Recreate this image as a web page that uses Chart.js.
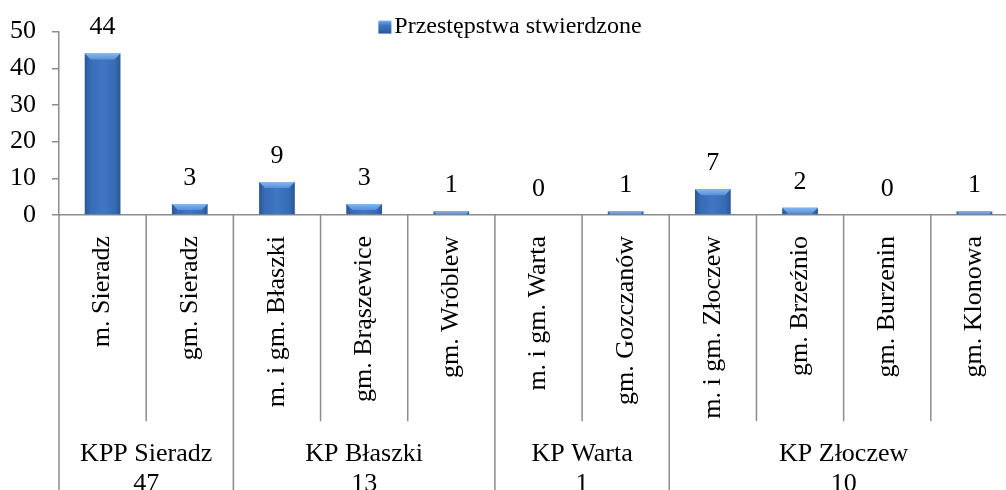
<!DOCTYPE html>
<html lang="pl">
<head>
<meta charset="UTF-8">
<title>Przestępstwa stwierdzone</title>
<script src="https://cdn.jsdelivr.net/npm/chart.js@4.4.1/dist/chart.umd.min.js"></script>
<style>
    html, body { margin: 0; padding: 0; background: #fff; overflow: hidden; }
    #wrap { width: 1020px; height: 520px; }
</style>
</head>
<body>
<div id="wrap"><canvas id="chart" width="1020" height="520"></canvas></div>
<script>
// dane
const gminy = ['m. Sieradz', 'gm. Sieradz', 'm. i gm. Błaszki', 'gm. Brąszewice', 'gm. Wróblew',
               'm. i gm. Warta', 'gm. Gozczanów', 'm. i gm. Złoczew', 'gm. Brzeźnio', 'gm. Burzenin', 'gm. Klonowa'];
const przestepstwa = [44, 3, 9, 3, 1, 0, 1, 7, 2, 0, 1];
const komendy = ['KPP Sieradz', 'KP Błaszki', 'KP Warta', 'KP Złoczew'];
const komendySuma = [47, 13, 1, 10];
const komendyIle = [2, 3, 2, 4];
const osY = [0, 10, 20, 30, 40, 50];

const FONT = '"Liberation Serif", "Times New Roman", serif';
const SZARY = '#8C8C8C';
const BAR_PCT = 0.41;
const PAD_Y = 16;

// środki grup i granice (w jednostkach kategorii)
const granice = [0];
komendyIle.forEach(n => granice.push(granice[granice.length - 1] + n));
const srodki = komendyIle.map((n, i) => granice[i] + (n - 1) / 2);

Chart.defaults.font.family = FONT;
Chart.defaults.color = '#000';

function barFill(c) {
    const chart = c.chart;
    const x = chart.scales.x;
    if (!chart.chartArea || c.type !== 'data' || !x) return '#3D73BF';
    const cx = x.getPixelForValue(c.dataIndex);
    const half = x.width / gminy.length * BAR_PCT / 2;
    const g = chart.ctx.createLinearGradient(cx - half, 0, cx + half, 0);
    g.addColorStop(0, '#2A5696');
    g.addColorStop(0.15, '#366BB5');
    g.addColorStop(0.5, '#4077C3');
    g.addColorStop(0.85, '#366BB5');
    g.addColorStop(1, '#2A5696');
    return g;
}

// bez dodatkowych marginesów od etykiet osi X
const bezMarginesu = ax => { ax.paddingLeft = 0; ax.paddingRight = 0; };

// wartości nad słupkami + jaśniejsza "fazka" u góry
const etykiety = {
    id: 'etykiety',
    afterDatasetsDraw(chart) {
        const ctx = chart.ctx;
        const meta = chart.getDatasetMeta(0);
        ctx.save();
        meta.data.forEach((bar, i) => {
            const h = bar.base - bar.y;
            if (h > 0) {
                const l = bar.x - bar.width / 2, r = bar.x + bar.width / 2;
                const d = Math.min(6, h);
                const g = ctx.createLinearGradient(0, bar.y, 0, bar.y + d);
                g.addColorStop(0, '#86B6EE');
                g.addColorStop(1, '#5A8FD6');
                ctx.fillStyle = g;
                ctx.beginPath();
                ctx.moveTo(l, bar.y);
                ctx.lineTo(r, bar.y);
                ctx.lineTo(r - d, bar.y + d);
                ctx.lineTo(l + d, bar.y + d);
                ctx.closePath();
                ctx.fill();
            }
        });
        ctx.font = '26px ' + FONT;
        ctx.fillStyle = '#000';
        ctx.textAlign = 'center';
        ctx.textBaseline = 'middle';
        meta.data.forEach((bar, i) => {
            ctx.fillText(String(przestepstwa[i]), bar.x, bar.y - 26);
        });
        ctx.restore();
    }
};

// legenda nachodzi na obszar wykresu, więc rysowana osobno
const legenda = {
    id: 'legenda',
    afterDraw(chart) {
        const ctx = chart.ctx;
        const tekst = chart.data.datasets[0].label;
        ctx.save();
        ctx.font = '24px ' + FONT;
        const w = ctx.measureText(tekst).width;
        const x0 = chart.width / 2 - (13 + 3 + w) / 2;
        const yc = chart.chartArea.top - 4.5;
        const g = ctx.createLinearGradient(0, yc - 6.5, 0, yc + 6.5);
        g.addColorStop(0, '#7FAFEA');
        g.addColorStop(0.35, '#3F76C3');
        g.addColorStop(1, '#2A5898');
        ctx.fillStyle = g;
        ctx.fillRect(x0, yc - 6.5, 13, 13);
        ctx.fillStyle = '#000';
        ctx.textAlign = 'left';
        ctx.textBaseline = 'middle';
        ctx.fillText(tekst, x0 + 16, yc);
        ctx.restore();
    }
};

// linie podziału pod osią X
const podzialy = {
    id: 'podzialy',
    afterDraw(chart) {
        const { ctx, chartArea, scales } = chart;
        ctx.save();
        ctx.strokeStyle = SZARY;
        ctx.lineWidth = 1.5;
        for (let b = 0; b <= gminy.length; b++) {
            const px = scales.x2.getPixelForValue(b - 0.5);
            const dol = granice.includes(b) ? chart.height : scales.x.bottom - 18.5;
            ctx.beginPath();
            ctx.moveTo(px, chartArea.bottom);
            ctx.lineTo(px, dol);
            ctx.stroke();
        }
        ctx.restore();
    }
};

new Chart(document.getElementById('chart'), {
    type: 'bar',
    data: {
        labels: gminy,
        datasets: [{
            label: 'Przestępstwa stwierdzone',
            data: przestepstwa,
            backgroundColor: barFill,
            borderWidth: 0,
            barPercentage: BAR_PCT,
            categoryPercentage: 1
        }]
    },
    options: {
        responsive: false,
        animation: false,
        layout: { padding: { top: 10, left: 10, right: 2, bottom: 20.5 } },
        plugins: {
            legend: { display: false },
            tooltip: { enabled: false }
        },
        scales: {
            y: {
                min: 0, max: 50,
                afterBuildTicks: ax => { ax.ticks = osY.map(v => ({ value: v })); },
                afterFit: ax => { ax.width -= PAD_Y; },
                ticks: { font: { size: 26 }, padding: PAD_Y, color: '#000', autoSkip: false },
                grid: { drawOnChartArea: false, drawTicks: true, tickLength: 7, color: SZARY, lineWidth: 1.5 },
                border: { color: SZARY, width: 1.5 }
            },
            x: {
                afterFit: bezMarginesu,
                ticks: { font: { size: 26 }, minRotation: 90, maxRotation: 90, autoSkip: false, padding: 21, color: '#000' },
                grid: { display: false, drawTicks: false },
                border: { color: SZARY, width: 1.5 }
            },
            x2: {
                type: 'linear',
                position: 'bottom',
                offset: false,
                min: -0.5,
                max: gminy.length - 0.5,
                afterBuildTicks: ax => { ax.ticks = srodki.map(v => ({ value: v })); },
                afterFit: bezMarginesu,
                ticks: {
                    font: { size: 26, lineHeight: 1.15 }, autoSkip: false, maxRotation: 0, padding: 0, color: '#000',
                    callback: (v, i) => [komendy[i], String(komendySuma[i])]
                },
                grid: { display: false, drawTicks: false, offset: false },
                border: { display: false }
            }
        }
    },
    plugins: [etykiety, legenda, podzialy]
});
</script>
</body>
</html>
